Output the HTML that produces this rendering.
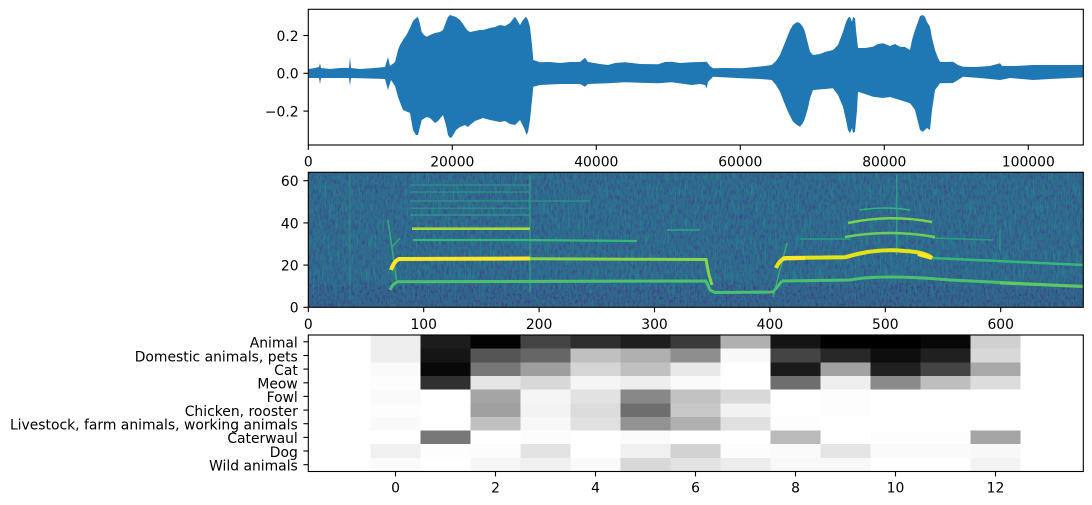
<!DOCTYPE html>
<html><head><meta charset="utf-8"><style>
html,body{margin:0;padding:0;background:#fff;}
svg{display:block;}
text{font-family:"DejaVu Sans","Liberation Sans",sans-serif;font-size:13.9px;fill:#000;}
</style></head><body>
<svg width="1092" height="505" viewBox="0 0 1092 505" xmlns="http://www.w3.org/2000/svg">
<defs>
<clipPath id="c1"><rect x="308.3" y="9.3" width="775" height="135.7"/></clipPath>
<clipPath id="c2"><rect x="308.3" y="172.3" width="775" height="135"/></clipPath>
<filter id="nz1" x="0" y="0" width="1" height="1" color-interpolation-filters="sRGB">
<feTurbulence type="fractalNoise" baseFrequency="0.45 0.2" numOctaves="3" seed="7"/>
<feColorMatrix type="matrix" values="0 0 0 0 0.24  0 0 0 0 0.29  0 0 0 0 0.54  2.6 0 0 0 -1.15"/>
</filter>
<filter id="nz2" x="0" y="0" width="1" height="1" color-interpolation-filters="sRGB">
<feTurbulence type="fractalNoise" baseFrequency="0.6 0.06" numOctaves="2" seed="21"/>
<feColorMatrix type="matrix" values="0 0 0 0 0.14  0 0 0 0 0.55  0 0 0 0 0.55  0 2.4 0 0 -1.25"/>
</filter>
<filter id="nz3" x="0" y="0" width="1" height="1" color-interpolation-filters="sRGB">
<feTurbulence type="fractalNoise" baseFrequency="0.5 0.3" numOctaves="2" seed="3"/>
<feColorMatrix type="matrix" values="0 0 0 0 0.27  0 0 0 0 0.15  0 0 0 0 0.48  0 0 2.5 0 -1.4"/>
</filter>
</defs>

<!-- ===== Axes 1: waveform ===== -->
<g clip-path="url(#c1)">
<polygon fill="#1f77b4" points="
308.3,69 315,68 319,67 320,63 321,68 330,69 340,68 349,68 350,57 351,68 360,69 375,68 385,67 388,57 390,66 395,62 398,50 400,45 403,40 407,34 410,28 413,21 416,18 418,17 420,24 421.7,32 424,35 426.7,36.7 430,35 435,33 440,32 443,30 446,22 448,17 450,15 453,16 456,17 460,20 463,24 467,30 470,32 475,31 480,30 483,30 490,28 495,27 500,25 505,26 510,23 513,19 515,16.7 517,20 520,25 523,20 526,16.7 528,20 530,27 532,45 533.3,60 540,62.3 550,62 560,63 570,62 580,62 585,57.7 588,62 600,64 608,65 615,63 625,62.3 640,64 658,64.3 665,62 671.7,61.7 680,63 691.7,62.3 700,62 706.7,61.7 710,66 713,68.3 725,68 741.7,68.3 755,67 765,66 771.7,65 776,61 780,55 784,45 788,35 790,30 793,25 797,22 800,23.3 803,27 805,31.7 807,40 810,51.7 813,55 820,54 825,52 833,50 838,45 843,31.7 846,22 848,18 850,16.7 852,22 853,17 855,18.3 856,30 858,48 865,48 873,46.7 878,44 883,43.3 890,46 895,44 900,46.7 905,47 910,50 912,40 915,30 918,22 920,16 923,15 925,17 927,22 930,26.7 932,38 935,50 938,58 940,61.7 945,62 953,61.7 958,65 963,66.7 975,67 990,66 1000,63.3 1002,66 1015,66 1033,65 1050,65 1065,65 1084,65
1084,77.3 1050,79 1033,80 1010,78 1000,80 980,78 963,76.7 958,80 953,83 940,83.3 935,90 932,110 930,130 927,128 923,131.7 920,130 918,122 915,110 913,107 910,103.3 900,100 890,97 883,98 873,96.7 865,94 858,91.7 857,110 855,131.7 853,133 852,128 850,133.3 848,130 846,120 843,106.7 838,95 833,88.3 825,89 813,90 810,98.3 808,108 805,118.3 803,123 800,126.7 797,125 793,121.7 788,111.7 784,102 780,91.7 776,85 771.7,80 760,79 741.7,78.3 713,76.7 708,82 706.7,88.3 705,85 700,84 691.7,85 671.7,82.3 658,83.3 625,82.3 608,83.3 588,84 585,86.7 580,84 560,84 540,85 533.3,86.7 532,100 530,120 528,132 526.7,135 524,128 520,120 515,125 510,124 505,121 500,122 490,120 483,118 475,121 470,125 468,127 465,125 460,127 456,130 452,137 450,138 448,135 446,125 443,115 438,121 435,123 430,118 426.7,117 421.7,120 418,135 416,135 413,130 410,113 403,110 398,97 395,86 391,80 388,90 385,79 351,78 350,86 349,78 321,78 320,84 319,78 308.3,78"/>
</g>
<rect x="308.3" y="9.3" width="775" height="135.7" fill="none" stroke="#000" stroke-width="1.1"/>
<g stroke="#000" stroke-width="1.1">
<line x1="303.4" y1="35.5" x2="308.3" y2="35.5"/>
<line x1="303.4" y1="73.3" x2="308.3" y2="73.3"/>
<line x1="303.4" y1="111.1" x2="308.3" y2="111.1"/>
<line x1="308.3" y1="145" x2="308.3" y2="149.9"/>
<line x1="452.3" y1="145" x2="452.3" y2="149.9"/>
<line x1="596.3" y1="145" x2="596.3" y2="149.9"/>
<line x1="740.3" y1="145" x2="740.3" y2="149.9"/>
<line x1="884.3" y1="145" x2="884.3" y2="149.9"/>
<line x1="1028.3" y1="145" x2="1028.3" y2="149.9"/>
</g>
<g text-anchor="end">
<text x="298.6" y="40.9">0.2</text>
<text x="298.6" y="78.7">0.0</text>
<text x="298.6" y="116.5">−0.2</text>
</g>
<g text-anchor="middle">
<text x="308.3" y="166.6">0</text>
<text x="452.3" y="166.6">20000</text>
<text x="596.3" y="166.6">40000</text>
<text x="740.3" y="166.6">60000</text>
<text x="884.3" y="166.6">80000</text>
<text x="1028.3" y="166.6">100000</text>
</g>

<!-- ===== Axes 2: spectrogram ===== -->
<g clip-path="url(#c2)">
<rect x="308.3" y="172.3" width="775" height="135" fill="#2d6d8e"/>
<rect x="308.3" y="172.3" width="775" height="135" filter="url(#nz1)"/>
<rect x="308.3" y="172.3" width="775" height="135" filter="url(#nz2)"/>
<rect x="308.3" y="287" width="775" height="21" fill="#3b528b" opacity="0.18"/>
<rect x="308.3" y="282" width="775" height="26" filter="url(#nz3)"/>
<g fill="none" stroke-linecap="butt">
<!-- call 1 -->
<path d="M388,220 L397,283" stroke="#3fbc73" stroke-width="1.5" opacity="0.8"/>
<path d="M392,247 L400,238" stroke="#3fbc73" stroke-width="1.5" opacity="0.7"/>
<path d="M530,175 L530,292" stroke="#33a08a" stroke-width="1.5" opacity="0.8"/>
<path d="M350,175 L350,300" stroke="#2a9c85" stroke-width="1.2" opacity="0.5"/>
<path d="M410,185 L530,185" stroke="#2a9c85" stroke-width="1.5" opacity="0.7"/>
<path d="M410,192 L530,192" stroke="#2a9c85" stroke-width="1.5" opacity="0.7"/>
<path d="M410,201 L590,201" stroke="#2a9c85" stroke-width="1.5" opacity="0.8"/>
<path d="M410,208.3 L530,208.3" stroke="#2a9c85" stroke-width="1.5" opacity="0.7"/>
<path d="M410,215 L530,215" stroke="#2fa088" stroke-width="1.5" opacity="0.8"/>
<path d="M413,240 L520,240 L637,241" stroke="#35b779" stroke-width="2.2"/>
<path d="M667,230 L700,230" stroke="#2fa88a" stroke-width="1.5"/>
<path d="M412,228.7 L530,228.7" stroke="#a5db36" stroke-width="2.6"/>
<path d="M390,290 Q393,283 398,281.8 L706,281 L710,290 L715,292.5 L773,292 L782,281" stroke="#4ac16d" stroke-width="3"/>
<path d="M773,297 L787,243" stroke="#3fbc73" stroke-width="1.5" opacity="0.8"/>
<path d="M530,258.8 L706,259.5 L709,275 L712,285" stroke="#86d549" stroke-width="3"/>
<path d="M391,270 Q394,261 399,259 L530,258.5" stroke="#fde725" stroke-width="4"/>
<!-- call 2 -->
<path d="M896.7,175 L896.7,255" stroke="#2fa88a" stroke-width="1.5" opacity="0.8"/>
<path d="M1000,230 L1000,250" stroke="#2fa88a" stroke-width="1.2" opacity="0.7"/>
<path d="M800,239 L850,239" stroke="#2a9c85" stroke-width="1.5"/>
<path d="M932,238 L993,240" stroke="#2a9c85" stroke-width="1.5"/>
<path d="M860,210 Q885,206 910,210" stroke="#2fb47c" stroke-width="1.5"/>
<path d="M848,223 Q890,214 932,222" stroke="#7ad151" stroke-width="2.5"/>
<path d="M845,237 Q890,229 935,237" stroke="#6ccd5a" stroke-width="2.5"/>
<path d="M782,281 L850,280 Q880,274 950,280 L1084,286.5" stroke="#4ac16d" stroke-width="3"/>
<path d="M1000,283 L1084,286.5" stroke="#5ec962" stroke-width="3"/>
<path d="M932,258 L1084,265" stroke="#35b779" stroke-width="2.5"/>
<path d="M776,268 Q780,259 786,258 L845,257.3 Q875,248 905,251 Q925,252 932,258" stroke="#e2e418" stroke-width="4"/>
<path d="M782,258.5 L805,258" stroke="#fde725" stroke-width="4"/>
<path d="M918,254 L932,258" stroke="#fde725" stroke-width="4"/>
</g>
</g>
<rect x="308.3" y="172.3" width="775" height="135" fill="none" stroke="#000" stroke-width="1.1"/>
<g stroke="#000" stroke-width="1.1">
<line x1="303.4" y1="307.3" x2="308.3" y2="307.3"/>
<line x1="303.4" y1="265.1" x2="308.3" y2="265.1"/>
<line x1="303.4" y1="222.9" x2="308.3" y2="222.9"/>
<line x1="303.4" y1="180.7" x2="308.3" y2="180.7"/>
<line x1="308.3" y1="307.3" x2="308.3" y2="312.2"/>
<line x1="423.7" y1="307.3" x2="423.7" y2="312.2"/>
<line x1="539.1" y1="307.3" x2="539.1" y2="312.2"/>
<line x1="654.5" y1="307.3" x2="654.5" y2="312.2"/>
<line x1="769.9" y1="307.3" x2="769.9" y2="312.2"/>
<line x1="885.3" y1="307.3" x2="885.3" y2="312.2"/>
<line x1="1000.7" y1="307.3" x2="1000.7" y2="312.2"/>
</g>
<g text-anchor="end">
<text x="298.6" y="312.7">0</text>
<text x="298.6" y="270.5">20</text>
<text x="298.6" y="228.3">40</text>
<text x="298.6" y="186.1">60</text>
</g>
<g text-anchor="middle">
<text x="308.3" y="329">0</text>
<text x="423.7" y="329">100</text>
<text x="539.1" y="329">200</text>
<text x="654.5" y="329">300</text>
<text x="769.9" y="329">400</text>
<text x="885.3" y="329">500</text>
<text x="1000.7" y="329">600</text>
</g>

<!-- ===== Axes 3: heatmap ===== -->
<g shape-rendering="crispEdges">
<rect x="370.5" y="335" width="50" height="13.65" fill="#eeeeee"/>
<rect x="370.5" y="348.65" width="50" height="13.65" fill="#eeeeee"/>
<rect x="370.5" y="362.3" width="50" height="13.65" fill="#fafafa"/>
<rect x="370.5" y="375.95" width="50" height="13.65" fill="#fdfdfd"/>
<rect x="370.5" y="389.6" width="50" height="13.65" fill="#fafafa"/>
<rect x="370.5" y="403.25" width="50" height="13.65" fill="#fdfdfd"/>
<rect x="370.5" y="416.9" width="50" height="13.65" fill="#fafafa"/>
<rect x="370.5" y="430.55" width="50" height="13.65" fill="#ffffff"/>
<rect x="370.5" y="444.2" width="50" height="13.65" fill="#f0f0f0"/>
<rect x="370.5" y="457.85" width="50" height="13.65" fill="#fafafa"/>
<rect x="420.5" y="335" width="50" height="13.65" fill="#1c1c1c"/>
<rect x="420.5" y="348.65" width="50" height="13.65" fill="#151515"/>
<rect x="420.5" y="362.3" width="50" height="13.65" fill="#080808"/>
<rect x="420.5" y="375.95" width="50" height="13.65" fill="#303030"/>
<rect x="420.5" y="389.6" width="50" height="13.65" fill="#ffffff"/>
<rect x="420.5" y="403.25" width="50" height="13.65" fill="#ffffff"/>
<rect x="420.5" y="416.9" width="50" height="13.65" fill="#ffffff"/>
<rect x="420.5" y="430.55" width="50" height="13.65" fill="#787878"/>
<rect x="420.5" y="444.2" width="50" height="13.65" fill="#fdfdfd"/>
<rect x="420.5" y="457.85" width="50" height="13.65" fill="#ffffff"/>
<rect x="470.5" y="335" width="50" height="13.65" fill="#030303"/>
<rect x="470.5" y="348.65" width="50" height="13.65" fill="#555555"/>
<rect x="470.5" y="362.3" width="50" height="13.65" fill="#777777"/>
<rect x="470.5" y="375.95" width="50" height="13.65" fill="#e5e5e5"/>
<rect x="470.5" y="389.6" width="50" height="13.65" fill="#a5a5a5"/>
<rect x="470.5" y="403.25" width="50" height="13.65" fill="#a0a0a0"/>
<rect x="470.5" y="416.9" width="50" height="13.65" fill="#c0c0c0"/>
<rect x="470.5" y="430.55" width="50" height="13.65" fill="#ffffff"/>
<rect x="470.5" y="444.2" width="50" height="13.65" fill="#fcfcfc"/>
<rect x="470.5" y="457.85" width="50" height="13.65" fill="#f5f5f5"/>
<rect x="520.5" y="335" width="50" height="13.65" fill="#444444"/>
<rect x="520.5" y="348.65" width="50" height="13.65" fill="#666666"/>
<rect x="520.5" y="362.3" width="50" height="13.65" fill="#9e9e9e"/>
<rect x="520.5" y="375.95" width="50" height="13.65" fill="#d8d8d8"/>
<rect x="520.5" y="389.6" width="50" height="13.65" fill="#f5f5f5"/>
<rect x="520.5" y="403.25" width="50" height="13.65" fill="#f3f3f3"/>
<rect x="520.5" y="416.9" width="50" height="13.65" fill="#f7f7f7"/>
<rect x="520.5" y="430.55" width="50" height="13.65" fill="#fcfcfc"/>
<rect x="520.5" y="444.2" width="50" height="13.65" fill="#e3e3e3"/>
<rect x="520.5" y="457.85" width="50" height="13.65" fill="#f0f0f0"/>
<rect x="570.5" y="335" width="50" height="13.65" fill="#2e2e2e"/>
<rect x="570.5" y="348.65" width="50" height="13.65" fill="#c0c0c0"/>
<rect x="570.5" y="362.3" width="50" height="13.65" fill="#d5d5d5"/>
<rect x="570.5" y="375.95" width="50" height="13.65" fill="#f5f5f5"/>
<rect x="570.5" y="389.6" width="50" height="13.65" fill="#e2e2e2"/>
<rect x="570.5" y="403.25" width="50" height="13.65" fill="#dcdcdc"/>
<rect x="570.5" y="416.9" width="50" height="13.65" fill="#e0e0e0"/>
<rect x="570.5" y="430.55" width="50" height="13.65" fill="#ffffff"/>
<rect x="570.5" y="444.2" width="50" height="13.65" fill="#ffffff"/>
<rect x="570.5" y="457.85" width="50" height="13.65" fill="#fafafa"/>
<rect x="620.5" y="335" width="50" height="13.65" fill="#1e1e1e"/>
<rect x="620.5" y="348.65" width="50" height="13.65" fill="#b0b0b0"/>
<rect x="620.5" y="362.3" width="50" height="13.65" fill="#c0c0c0"/>
<rect x="620.5" y="375.95" width="50" height="13.65" fill="#eeeeee"/>
<rect x="620.5" y="389.6" width="50" height="13.65" fill="#888888"/>
<rect x="620.5" y="403.25" width="50" height="13.65" fill="#6e6e6e"/>
<rect x="620.5" y="416.9" width="50" height="13.65" fill="#929292"/>
<rect x="620.5" y="430.55" width="50" height="13.65" fill="#fbfbfb"/>
<rect x="620.5" y="444.2" width="50" height="13.65" fill="#f0f0f0"/>
<rect x="620.5" y="457.85" width="50" height="13.65" fill="#d8d8d8"/>
<rect x="670.5" y="335" width="50" height="13.65" fill="#3a3a3a"/>
<rect x="670.5" y="348.65" width="50" height="13.65" fill="#8e8e8e"/>
<rect x="670.5" y="362.3" width="50" height="13.65" fill="#e8e8e8"/>
<rect x="670.5" y="375.95" width="50" height="13.65" fill="#fafafa"/>
<rect x="670.5" y="389.6" width="50" height="13.65" fill="#c2c2c2"/>
<rect x="670.5" y="403.25" width="50" height="13.65" fill="#c8c8c8"/>
<rect x="670.5" y="416.9" width="50" height="13.65" fill="#b0b0b0"/>
<rect x="670.5" y="430.55" width="50" height="13.65" fill="#ffffff"/>
<rect x="670.5" y="444.2" width="50" height="13.65" fill="#d2d2d2"/>
<rect x="670.5" y="457.85" width="50" height="13.65" fill="#e2e2e2"/>
<rect x="720.5" y="335" width="50" height="13.65" fill="#b0b0b0"/>
<rect x="720.5" y="348.65" width="50" height="13.65" fill="#f8f8f8"/>
<rect x="720.5" y="362.3" width="50" height="13.65" fill="#ffffff"/>
<rect x="720.5" y="375.95" width="50" height="13.65" fill="#ffffff"/>
<rect x="720.5" y="389.6" width="50" height="13.65" fill="#d8d8d8"/>
<rect x="720.5" y="403.25" width="50" height="13.65" fill="#f2f2f2"/>
<rect x="720.5" y="416.9" width="50" height="13.65" fill="#e0e0e0"/>
<rect x="720.5" y="430.55" width="50" height="13.65" fill="#ffffff"/>
<rect x="720.5" y="444.2" width="50" height="13.65" fill="#fcfcfc"/>
<rect x="720.5" y="457.85" width="50" height="13.65" fill="#ececec"/>
<rect x="770.5" y="335" width="50" height="13.65" fill="#141414"/>
<rect x="770.5" y="348.65" width="50" height="13.65" fill="#444444"/>
<rect x="770.5" y="362.3" width="50" height="13.65" fill="#1a1a1a"/>
<rect x="770.5" y="375.95" width="50" height="13.65" fill="#6e6e6e"/>
<rect x="770.5" y="389.6" width="50" height="13.65" fill="#ffffff"/>
<rect x="770.5" y="403.25" width="50" height="13.65" fill="#ffffff"/>
<rect x="770.5" y="416.9" width="50" height="13.65" fill="#fdfdfd"/>
<rect x="770.5" y="430.55" width="50" height="13.65" fill="#bababa"/>
<rect x="770.5" y="444.2" width="50" height="13.65" fill="#fafafa"/>
<rect x="770.5" y="457.85" width="50" height="13.65" fill="#f8f8f8"/>
<rect x="820.5" y="335" width="50" height="13.65" fill="#000000"/>
<rect x="820.5" y="348.65" width="50" height="13.65" fill="#282828"/>
<rect x="820.5" y="362.3" width="50" height="13.65" fill="#a2a2a2"/>
<rect x="820.5" y="375.95" width="50" height="13.65" fill="#efefef"/>
<rect x="820.5" y="389.6" width="50" height="13.65" fill="#fdfdfd"/>
<rect x="820.5" y="403.25" width="50" height="13.65" fill="#fdfdfd"/>
<rect x="820.5" y="416.9" width="50" height="13.65" fill="#ffffff"/>
<rect x="820.5" y="430.55" width="50" height="13.65" fill="#ffffff"/>
<rect x="820.5" y="444.2" width="50" height="13.65" fill="#e5e5e5"/>
<rect x="820.5" y="457.85" width="50" height="13.65" fill="#f8f8f8"/>
<rect x="870.5" y="335" width="50" height="13.65" fill="#000000"/>
<rect x="870.5" y="348.65" width="50" height="13.65" fill="#0e0e0e"/>
<rect x="870.5" y="362.3" width="50" height="13.65" fill="#202020"/>
<rect x="870.5" y="375.95" width="50" height="13.65" fill="#8a8a8a"/>
<rect x="870.5" y="389.6" width="50" height="13.65" fill="#ffffff"/>
<rect x="870.5" y="403.25" width="50" height="13.65" fill="#ffffff"/>
<rect x="870.5" y="416.9" width="50" height="13.65" fill="#ffffff"/>
<rect x="870.5" y="430.55" width="50" height="13.65" fill="#fdfdfd"/>
<rect x="870.5" y="444.2" width="50" height="13.65" fill="#fafafa"/>
<rect x="870.5" y="457.85" width="50" height="13.65" fill="#ffffff"/>
<rect x="920.5" y="335" width="50" height="13.65" fill="#080808"/>
<rect x="920.5" y="348.65" width="50" height="13.65" fill="#202020"/>
<rect x="920.5" y="362.3" width="50" height="13.65" fill="#444444"/>
<rect x="920.5" y="375.95" width="50" height="13.65" fill="#bebebe"/>
<rect x="920.5" y="389.6" width="50" height="13.65" fill="#ffffff"/>
<rect x="920.5" y="403.25" width="50" height="13.65" fill="#ffffff"/>
<rect x="920.5" y="416.9" width="50" height="13.65" fill="#ffffff"/>
<rect x="920.5" y="430.55" width="50" height="13.65" fill="#fdfdfd"/>
<rect x="920.5" y="444.2" width="50" height="13.65" fill="#fafafa"/>
<rect x="920.5" y="457.85" width="50" height="13.65" fill="#ffffff"/>
<rect x="970.5" y="335" width="50" height="13.65" fill="#d0d0d0"/>
<rect x="970.5" y="348.65" width="50" height="13.65" fill="#d8d8d8"/>
<rect x="970.5" y="362.3" width="50" height="13.65" fill="#a8a8a8"/>
<rect x="970.5" y="375.95" width="50" height="13.65" fill="#dcdcdc"/>
<rect x="970.5" y="389.6" width="50" height="13.65" fill="#ffffff"/>
<rect x="970.5" y="403.25" width="50" height="13.65" fill="#ffffff"/>
<rect x="970.5" y="416.9" width="50" height="13.65" fill="#ffffff"/>
<rect x="970.5" y="430.55" width="50" height="13.65" fill="#a5a5a5"/>
<rect x="970.5" y="444.2" width="50" height="13.65" fill="#f8f8f8"/>
<rect x="970.5" y="457.85" width="50" height="13.65" fill="#f3f3f3"/>
</g>
<rect x="308.3" y="335" width="775" height="136.5" fill="none" stroke="#000" stroke-width="1.1"/>
<g stroke="#000" stroke-width="1.1">
<line x1="303.4" y1="341.8" x2="308.3" y2="341.8"/>
<line x1="303.4" y1="355.5" x2="308.3" y2="355.5"/>
<line x1="303.4" y1="369.1" x2="308.3" y2="369.1"/>
<line x1="303.4" y1="382.8" x2="308.3" y2="382.8"/>
<line x1="303.4" y1="396.4" x2="308.3" y2="396.4"/>
<line x1="303.4" y1="410.1" x2="308.3" y2="410.1"/>
<line x1="303.4" y1="423.7" x2="308.3" y2="423.7"/>
<line x1="303.4" y1="437.4" x2="308.3" y2="437.4"/>
<line x1="303.4" y1="451.0" x2="308.3" y2="451.0"/>
<line x1="303.4" y1="464.7" x2="308.3" y2="464.7"/>
<line x1="395.5" y1="471.5" x2="395.5" y2="476.4"/>
<line x1="495.5" y1="471.5" x2="495.5" y2="476.4"/>
<line x1="595.5" y1="471.5" x2="595.5" y2="476.4"/>
<line x1="695.5" y1="471.5" x2="695.5" y2="476.4"/>
<line x1="795.5" y1="471.5" x2="795.5" y2="476.4"/>
<line x1="895.5" y1="471.5" x2="895.5" y2="476.4"/>
<line x1="995.5" y1="471.5" x2="995.5" y2="476.4"/>
</g>
<g text-anchor="end">
<text x="297.8" y="347.6">Animal</text>
<text x="297.8" y="361.3">Domestic animals, pets</text>
<text x="297.8" y="374.9">Cat</text>
<text x="297.8" y="388.6">Meow</text>
<text x="297.8" y="402.2">Fowl</text>
<text x="297.8" y="415.9">Chicken, rooster</text>
<text x="297.8" y="429.5">Livestock, farm animals, working animals</text>
<text x="297.8" y="443.2">Caterwaul</text>
<text x="297.8" y="456.8">Dog</text>
<text x="297.8" y="470.5">Wild animals</text>
</g>
<g text-anchor="middle">
<text x="395.5" y="492.6">0</text>
<text x="495.5" y="492.6">2</text>
<text x="595.5" y="492.6">4</text>
<text x="695.5" y="492.6">6</text>
<text x="795.5" y="492.6">8</text>
<text x="895.5" y="492.6">10</text>
<text x="995.5" y="492.6">12</text>
</g>
</svg>
</body></html>
